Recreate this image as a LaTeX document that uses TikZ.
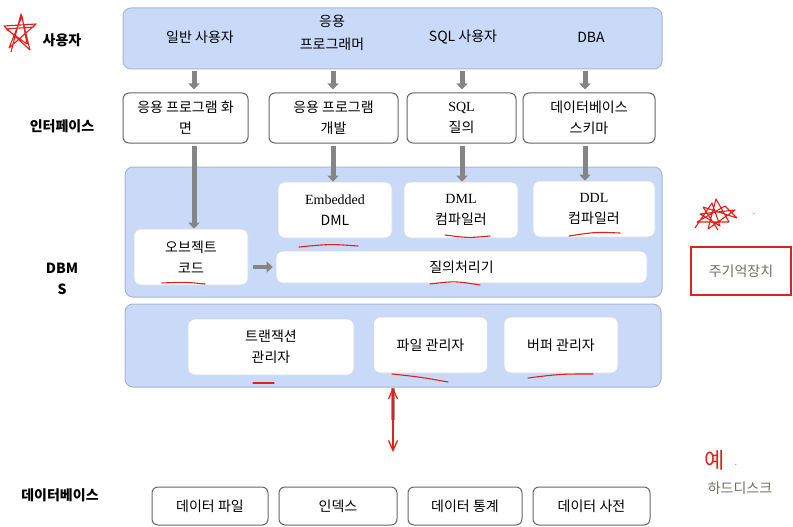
\documentclass[tikz,border=0pt]{standalone}
\usepackage{fontspec}
\setmainfont{Noto Sans CJK KR}
\newfontfamily\serifl{Liberation Serif}
\usetikzlibrary{positioning,arrows.meta}

\definecolor{paneblue}{HTML}{C9DAF8}
\definecolor{paneline}{HTML}{A9B6CB}
\definecolor{arrgray}{HTML}{858585}
\definecolor{notered}{HTML}{E3211C}
\definecolor{memtext}{HTML}{6E7060}

\begin{document}
\begin{tikzpicture}[x=1pt, y=-1pt,
  font=\fontsize{14}{21}\selectfont,
  pane/.style={rectangle, rounded corners=8pt, draw=paneline, line width=1pt, fill=paneblue},
  box/.style={rectangle, rounded corners=6pt, draw=black!60, line width=1pt, fill=white,
              align=center, inner sep=1pt, minimum height=50pt},
  inbox/.style={rectangle, rounded corners=7pt, draw=paneline!50, line width=0.6pt, fill=white,
                align=center, inner sep=1pt, minimum height=56pt, minimum width=114pt},
  dbbox/.style={box, minimum height=38pt},
  lbl/.style={font=\fontsize{14}{21}\selectfont\bfseries, align=center},
  garr/.style={-{Triangle[length=6pt,width=11pt]}, draw=arrgray, line width=5pt},
  rarr/.style={{Straight Barb[length=10pt,width=9pt]}-{Straight Barb[length=10pt,width=9pt]},
               draw=notered, line width=1.3pt},
  uline/.style={draw=notered, line width=1.1pt, line cap=round},
  scrib/.style={draw=notered, line width=1.1pt, line join=round}
]
\useasboundingbox (0,0) rectangle (793,527);

% left labels
\node[lbl] (lusr) at (62,40)  {사용자};
\node[lbl] (lint) at (62,126) {인터페이스};
\node[lbl] (ldbm) at (62,279) {DBM\\S};
\node[lbl] (ldb)  at (60,495) {데이터베이스};

% users
\node[pane, minimum width=539pt, minimum height=61pt] (users) at (392.5,38.5) {};
\node (u1) at (200,37) {일반 사용자};
\node[align=center, font=\fontsize{14}{23}\selectfont] (u2) at (332,33) {응용\\프로그래머};
\node (u3) at (463,37) {SQL 사용자};
\node (u4) at (591,37) {DBA};

\coordinate (c1) at (194,0);
\coordinate (c2) at (333,0);
\coordinate (c3) at (462,0);
\coordinate (c4) at (585,0);

% interfaces
\node[box, minimum width=125pt] (i1) at (185.5,118) {응용 프로그램 화\\면};
\node[box, minimum width=129pt] (i2) at (333.5,118) {응용 프로그램\\개발};
\node[box, minimum width=109pt] (i3) at (461.5,118) {{\serifl SQL}\\질의};
\node[box, minimum width=132pt] (i4) at (589,118) {데이터베이스\\스키마};

\foreach \i in {1,...,4}
  \draw[garr, shorten <=2pt, shorten >=3pt] (users.south -| c\i) -- (i\i.north -| c\i);

% dbms
\node[pane, minimum width=537pt, minimum height=130pt] (dbms) at (393.5,232) {};
\node[inbox] (edml) at (335,210) {{\serifl Embedded}\\DML};
\node[inbox] (dmlc) at (461,210) {{\serifl DML}\\컴파일러};
\node[inbox, minimum width=122pt] (ddlc) at (594,209) {{\serifl DDL}\\컴파일러};
\node[inbox] (obj)  at (191,257) {오브젝트\\코드};
\node[inbox, minimum width=371pt, minimum height=32pt] (qp) at (461.5,267) {질의처리기};

\draw[garr, shorten <=2pt] (i1.south -| c1) -- (obj.north -| c1);
\draw[garr, shorten <=2pt] (i2.south -| c2) -- (edml.north -| c2);
\draw[garr, shorten <=2pt] (i3.south -| c3) -- (dmlc.north -| c3);
\draw[garr, shorten <=2pt] (i4.south -| c4) -- (ddlc.north -| c4);
\draw[garr, line width=4.5pt, shorten <=5pt, shorten >=3pt] (obj.east |- qp.west) -- (qp.west);

% storage
\node[pane, minimum width=536pt, minimum height=83pt] (stor) at (393,345.5) {};
\node[inbox, minimum width=166pt] (tm) at (271,347) {트랜잭션\\관리자};
\node[inbox] (fm) at (430.5,345) {파일 관리자};
\node[inbox] (bm) at (561,345) {버퍼 관리자};

\coordinate (hd) at (393,452);
\draw[draw=arrgray!80, line width=4pt] (stor.south -| hd) -- ([yshift=32pt]hd);
\draw[rarr] (stor.south -| hd) -- (hd);

% database
\node[dbbox, minimum width=116pt] (df) at (210,506) {데이터 파일};
\node[dbbox, minimum width=118pt] (ix) at (338,506) {인덱스};
\node[dbbox, minimum width=114pt] (ds) at (465,506) {데이터 통계};
\node[dbbox, minimum width=117pt] (dd) at (591.5,506) {데이터 사전};

% side notes
\node[draw=notered, line width=1.2pt, minimum width=100pt, minimum height=48pt,
      text=memtext] (mem) at (741,271) {주기억장치};
\node[text=memtext] (hdd) at (740,488) {하드디스크};
\node[text=notered, font=\fontsize{22}{22}\selectfont] (ye) at (715,460) {예};
\node[text=black!60, font=\fontsize{8}{8}\selectfont] (yedot) at (736,465) {.};
\node[text=black!60, font=\fontsize{8}{8}\selectfont] (memdot) at (754,214) {.};

% red marks
\draw[scrib] (11,52) -- (21,14) -- (30,50) -- (4,26) -- (36,24) -- (9,48) -- (22,16)
  -- (27,44) -- (6,29) -- (34,27);
\draw[scrib] (695,228) -- (712,203) -- (720,226) -- (700,214) -- (735,210) -- (708,229)
  -- (716,199) -- (729,222) -- (697,222) -- (725,206) -- (737,218) -- (703,207) -- (718,230);
\draw[uline] (299,247) .. controls (330,244) .. (358,246);
\draw[uline] (445,235) .. controls (468,238) .. (490,236);
\draw[uline] (569,236) .. controls (595,232) .. (620,233);
\draw[uline] (162,283) .. controls (185,282) .. (205,284);
\draw[uline] (430,284) .. controls (455,281) .. (480,285);
\draw[uline] (253,383) -- (274,383);
\draw[uline] (392,374) .. controls (420,377) .. (448,382);
\draw[uline] (528,378) .. controls (560,374) .. (593,374);
\end{tikzpicture}
\end{document}
